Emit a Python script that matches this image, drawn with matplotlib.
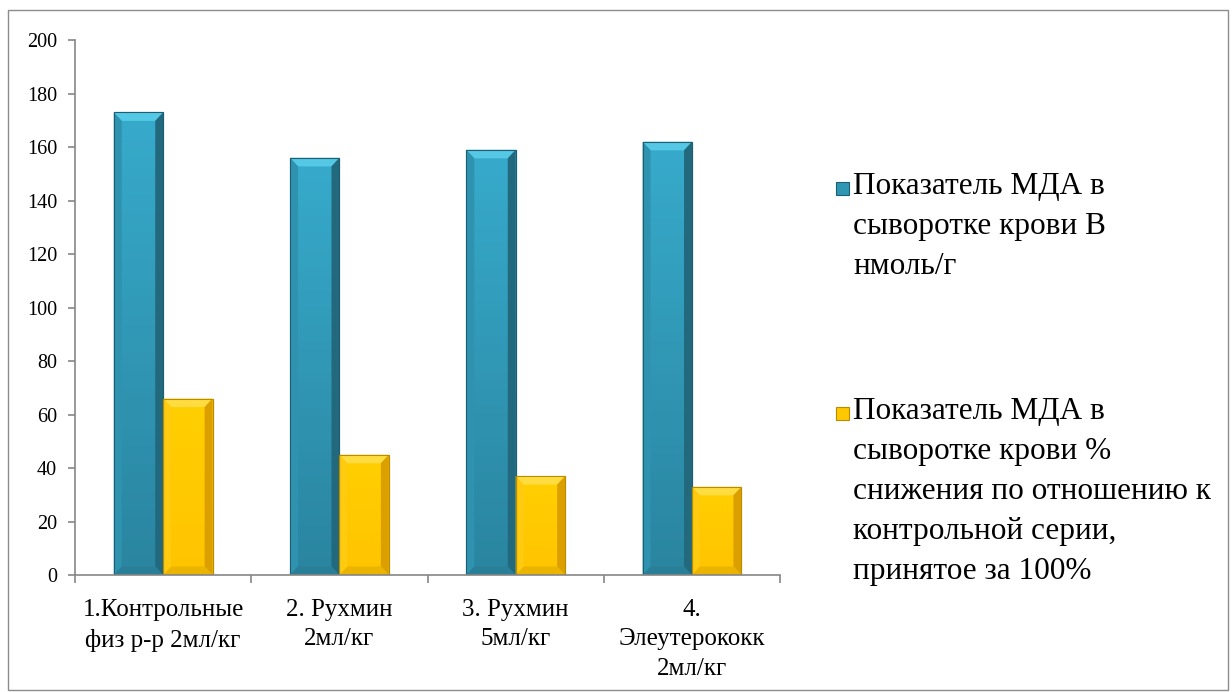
import numpy as np
import matplotlib
matplotlib.use("Agg")
import matplotlib.pyplot as plt
from matplotlib.colors import LinearSegmentedColormap
from matplotlib.patches import Polygon, Rectangle

FONT = "Liberation Serif"
plt.rcParams['font.family'] = 'serif'
plt.rcParams['font.serif'] = [FONT, 'DejaVu Serif']

categories = ["1.Контрольные\nфиз р-р 2мл/кг", "2. Рухмин\n2мл/кг",
              "3. Рухмин\n5мл/кг", "4.\nЭлеутерококк\n2мл/кг"]
mda_nmol = [173, 156, 159, 162]
mda_pct = [66, 45, 37, 33]
labels = ["Показатель МДА в\nсыворотке крови В\nнмоль/г",
          "Показатель МДА в\nсыворотке крови %\nснижения по отношению к\nконтрольной серии,\nпринятое за 100%"]

blue_cm = LinearSegmentedColormap.from_list("b", ["#2a85a0", "#37aacb"])
yell_cm = LinearSegmentedColormap.from_list("y", ["#ffc400", "#ffcf00"])

fig = plt.figure(figsize=(12.32, 6.92), dpi=100)
fig.patches.append(Rectangle((0.0065, 0.003), 0.99, 0.983, transform=fig.transFigure,
                             fill=False, edgecolor="#8c8c8c", linewidth=1))
ax = fig.add_axes([0.0609, 0.169, 0.5723, 0.773])

x = np.arange(len(categories))
w = 0.28
b1 = ax.bar(x - w / 2, mda_nmol, w, color="#2f96b4", edgecolor="#1d5f72", linewidth=0.8, zorder=2)
b2 = ax.bar(x + w / 2, mda_pct, w, color="#ffc800", edgecolor="#b98c00", linewidth=0.8, zorder=2)

dx, dy = 0.045, 3.2


def bevel(bars, cmap, top_col, right_col, left_col, bot_col):
    for b in bars:
        x0, h, bw = b.get_x(), b.get_height(), b.get_width()
        x1 = x0 + bw
        grad = np.linspace(0, 1, 50).reshape(-1, 1)
        im = ax.imshow(grad, cmap=cmap, extent=[x0, x1, 0, h], origin="lower",
                       aspect="auto", zorder=2.1)
        im.set_clip_path(b)
        pts = {
            top_col: [(x0, h), (x1, h), (x1 - dx, h - dy), (x0 + dx, h - dy)],
            right_col: [(x1, h), (x1, 0), (x1 - dx, dy), (x1 - dx, h - dy)],
            left_col: [(x0, h), (x0, 0), (x0 + dx, dy), (x0 + dx, h - dy)],
            bot_col: [(x0, 0), (x1, 0), (x1 - dx, dy), (x0 + dx, dy)],
        }
        for c, p in pts.items():
            ax.add_patch(Polygon(p, closed=True, facecolor=c, edgecolor="none", zorder=2.2))
        ax.add_patch(Rectangle((x0, 0), bw, h, fill=False, edgecolor=b.get_edgecolor(),
                               linewidth=0.8, zorder=2.3))


bevel(b1, blue_cm, "#55c8e6", "#22697e", "#2f92ae", "#2a7f98")
bevel(b2, yell_cm, "#ffdd40", "#dba000", "#ffcb10", "#eab400")

ax.set_xlim(-0.5, len(categories) - 0.5)
ax.set_ylim(0, 200)
ax.set_yticks(np.arange(0, 201, 20))
ax.set_yticklabels([str(v) for v in range(0, 201, 20)], family=FONT, fontsize=14.5)
ax.set_xticks(x)
ax.set_xticklabels(categories, family=FONT, fontsize=18, linespacing=1.45)
ax.set_xticks(np.arange(-0.5, len(categories)), minor=True)
ax.tick_params(axis="x", which="major", length=0, pad=17)
ax.tick_params(axis="x", which="minor", length=6, color="#868686", width=1.2)
ax.tick_params(axis="y", length=5, color="#868686", width=1.2, pad=8)

for s in ["top", "right"]:
    ax.spines[s].set_visible(False)
for s in ["left", "bottom"]:
    ax.spines[s].set_color("#868686")
    ax.spines[s].set_linewidth(1.2)

# legend drawn by hand so the square sits by the first line
leg_cols = ["#2f96b4", "#ffc800"]
leg_edges = ["#1d5f72", "#b98c00"]
leg_y = [0.733, 0.408]
for lab, c, ec, yy in zip(labels, leg_cols, leg_edges, leg_y):
    fig.patches.append(Rectangle((0.6785, yy - 0.0145), 0.0105, 0.0185, transform=fig.transFigure,
                                 facecolor=c, edgecolor=ec, linewidth=0.8))
    fig.text(0.6925, yy + 0.019, lab, family=FONT, fontsize=22.5, va="top", ha="left", linespacing=1.5)

fig.savefig("out.png", dpi=100)
